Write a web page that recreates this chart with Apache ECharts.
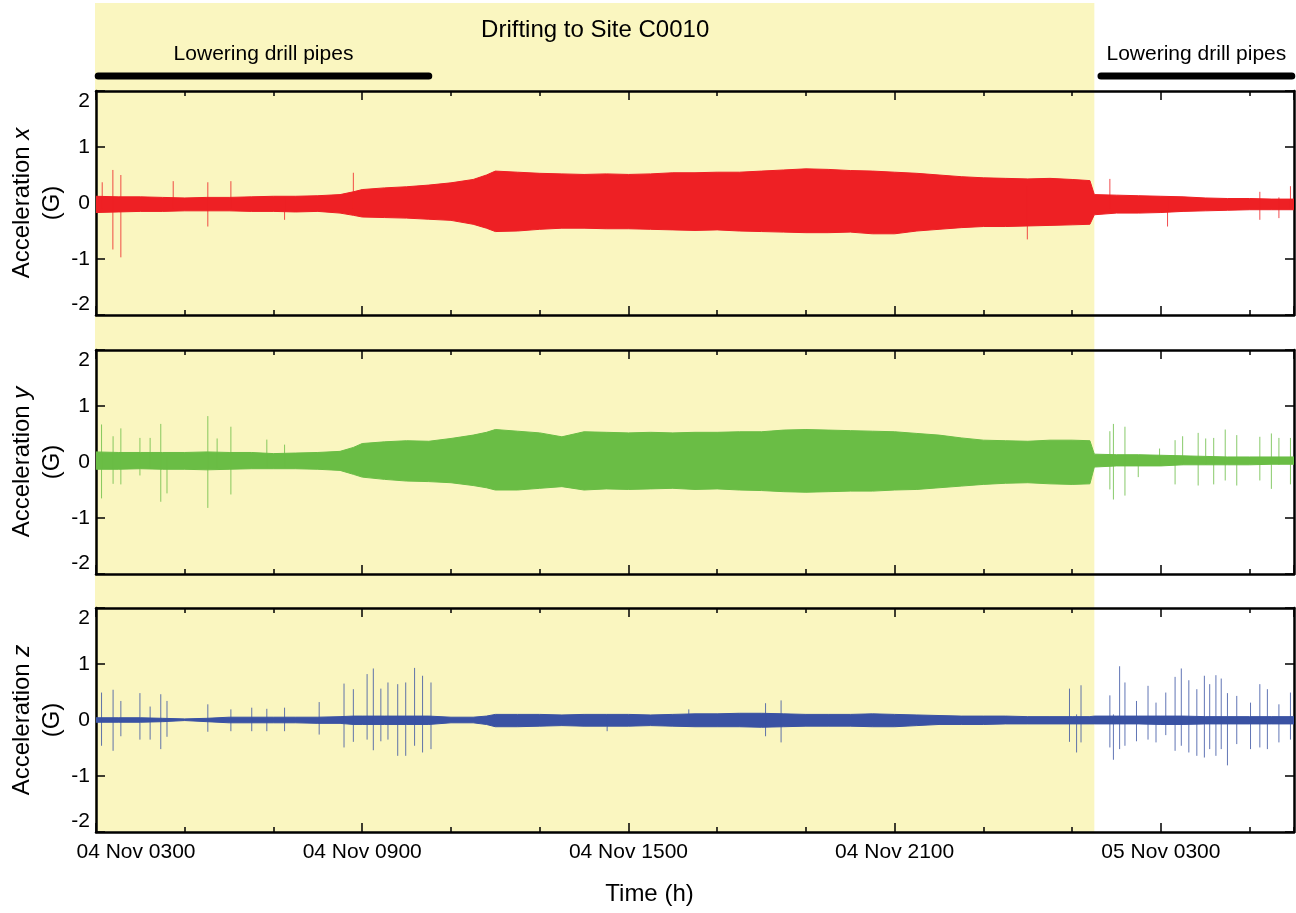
<!DOCTYPE html>
<html><head><meta charset="utf-8">
<script src="https://cdn.jsdelivr.net/npm/echarts@6/dist/echarts.min.js"></script>
<style>html,body{margin:0;padding:0;background:#fff}#c{width:1296px;height:913px}</style>
</head><body><div id="c"></div>
<script>
// ---- data (x = hours since 04 Nov 03:00) ----
const xTickLabels = ['04 Nov 0300','04 Nov 0900','04 Nov 1500','04 Nov 2100','05 Nov 0300'];
const yTicks = [-2,-1,0,1,2];
const driftRange = [0, 22.5];
const lowering1 = [0.05, 7.5];
const lowering2 = [22.65, 26.95];
const annotTexts = ['Drifting to Site C0010', 'Lowering drill pipes', 'Lowering drill pipes'];

const envTime = [0,0.5,1,1.5,2,2.5,3,3.5,4,4.5,5,5.5,5.8,6,6.5,7,7.5,8,8.5,8.8,
  9,9.5,10,10.5,11,11.5,12,12.5,13,13.5,14,14.5,15,15.5,16,16.5,17,17.5,18,18.5,19,19.5,20,20.5,21,21.5,22,
  22.4,22.5,23,23.5,24,24.5,25,25.5,26,26.5,27];

const envUpX = [0.12,0.11,0.11,0.10,0.09,0.10,0.10,0.11,0.12,0.12,0.13,0.15,0.20,0.24,0.27,0.29,0.32,0.36,0.42,0.50,
  0.57,0.55,0.53,0.52,0.51,0.52,0.51,0.52,0.54,0.54,0.55,0.55,0.57,0.59,0.61,0.60,0.58,0.57,0.55,0.53,0.50,0.47,0.45,0.44,0.43,0.44,0.42,
  0.40,0.15,0.14,0.13,0.12,0.11,0.09,0.08,0.08,0.07,0.07];
const envLoX = [-0.17,-0.16,-0.15,-0.15,-0.14,-0.14,-0.14,-0.15,-0.15,-0.16,-0.15,-0.18,-0.22,-0.25,-0.26,-0.27,-0.29,-0.31,-0.38,-0.45,
  -0.51,-0.50,-0.47,-0.45,-0.45,-0.46,-0.46,-0.47,-0.48,-0.49,-0.48,-0.50,-0.51,-0.52,-0.53,-0.53,-0.52,-0.55,-0.55,-0.50,-0.47,-0.44,-0.42,-0.42,-0.41,-0.40,-0.39,
  -0.38,-0.21,-0.18,-0.18,-0.17,-0.15,-0.14,-0.13,-0.12,-0.12,-0.12];

const envUpY = [0.18,0.17,0.17,0.17,0.17,0.18,0.17,0.17,0.15,0.16,0.17,0.19,0.26,0.33,0.36,0.38,0.37,0.42,0.48,0.53,
  0.58,0.55,0.52,0.45,0.54,0.53,0.52,0.53,0.52,0.53,0.53,0.54,0.54,0.57,0.58,0.57,0.56,0.55,0.54,0.51,0.48,0.43,0.39,0.38,0.37,0.39,0.39,
  0.38,0.14,0.13,0.13,0.12,0.11,0.10,0.09,0.09,0.09,0.09];
const envLoY = [-0.13,-0.13,-0.12,-0.13,-0.13,-0.14,-0.13,-0.12,-0.12,-0.12,-0.13,-0.15,-0.22,-0.27,-0.31,-0.34,-0.35,-0.37,-0.42,-0.46,
  -0.50,-0.50,-0.47,-0.44,-0.50,-0.48,-0.49,-0.48,-0.47,-0.49,-0.48,-0.50,-0.51,-0.53,-0.54,-0.53,-0.52,-0.52,-0.50,-0.49,-0.46,-0.43,-0.40,-0.38,-0.37,-0.39,-0.40,
  -0.39,-0.09,-0.07,-0.07,-0.07,-0.05,-0.05,-0.05,-0.05,-0.04,-0.04];

const envUpZ = [0.04,0.04,0.04,0.03,0.02,0.03,0.05,0.05,0.05,0.05,0.05,0.06,0.07,0.07,0.07,0.07,0.07,0.05,0.05,0.07,
  0.10,0.10,0.10,0.09,0.10,0.10,0.10,0.09,0.10,0.11,0.11,0.12,0.12,0.11,0.10,0.10,0.10,0.11,0.10,0.09,0.08,0.07,0.07,0.07,0.06,0.06,0.06,
  0.06,0.07,0.07,0.07,0.07,0.07,0.06,0.06,0.06,0.06,0.06];
const envLoZ = [-0.04,-0.04,-0.04,-0.03,-0.01,-0.03,-0.05,-0.05,-0.05,-0.05,-0.06,-0.06,-0.08,-0.08,-0.08,-0.08,-0.08,-0.05,-0.05,-0.08,
  -0.12,-0.12,-0.11,-0.10,-0.11,-0.11,-0.11,-0.10,-0.11,-0.12,-0.12,-0.12,-0.13,-0.12,-0.11,-0.11,-0.11,-0.12,-0.12,-0.10,-0.08,-0.08,-0.08,-0.07,-0.07,-0.07,-0.07,
  -0.07,-0.07,-0.07,-0.07,-0.08,-0.08,-0.07,-0.07,-0.07,-0.07,-0.07];

// spikes: [time, low, high]
const spikesX = [[0.14,-0.1,0.37],[0.38,-0.83,0.59],[0.56,-0.97,0.50],[1.74,-0.1,0.39],[2.52,-0.42,0.37],[3.04,-0.1,0.39],
  [4.25,-0.30,0.1],[5.80,-0.1,0.54],[20.99,-0.65,0.3],[22.85,-0.1,0.43],[24.15,-0.42,0.1],[26.23,-0.30,0.20],[26.66,-0.27,0.1],[26.92,-0.1,0.30]];
const spikesY = [[0.125,-0.65,0.67],[0.385,-0.39,0.46],[0.56,-0.40,0.60],[0.99,-0.24,0.43],[1.22,-0.1,0.43],[1.46,-0.71,0.68],
  [1.60,-0.56,0.1],[2.52,-0.82,0.82],[2.73,-0.1,0.42],[3.04,-0.58,0.63],[3.85,-0.1,0.40],[4.25,-0.1,0.31],
  [22.85,-0.49,0.55],[22.93,-0.67,0.68],[23.19,-0.60,0.63],[23.49,-0.27,0.1],[23.97,-0.05,0.24],[24.32,-0.40,0.39],[24.49,-0.05,0.46],
  [24.84,-0.42,0.52],[25.01,-0.05,0.42],[25.19,-0.40,0.43],[25.45,-0.33,0.58],[25.71,-0.42,0.48],[26.23,-0.33,0.45],[26.49,-0.48,0.51],
  [26.66,-0.05,0.43],[26.92,-0.40,0.43]];
const spikesZ = [[0.125,-0.46,0.49],[0.385,-0.55,0.54],[0.56,-0.29,0.34],[0.99,-0.35,0.48],[1.22,-0.35,0.24],[1.46,-0.52,0.46],
  [1.60,-0.30,0.34],[2.52,-0.21,0.28],[3.04,-0.20,0.19],[3.51,-0.20,0.22],[3.85,-0.20,0.20],[4.25,-0.20,0.22],[5.03,-0.26,0.32],
  [5.59,-0.49,0.65],[5.80,-0.39,0.55],[6.11,-0.35,0.82],[6.25,-0.54,0.92],[6.42,-0.38,0.56],[6.58,-0.35,0.67],[6.80,-0.64,0.64],
  [6.98,-0.64,0.67],[7.18,-0.46,0.93],[7.36,-0.58,0.79],[7.55,-0.52,0.67],[11.52,-0.20,0.10],[13.36,-0.10,0.19],[15.09,-0.29,0.30],
  [15.44,-0.40,0.35],[21.94,-0.39,0.56],[22.10,-0.58,0.10],[22.20,-0.40,0.62],[22.85,-0.49,0.44],[22.93,-0.71,0.10],[23.07,-0.52,0.96],
  [23.19,-0.46,0.67],[23.45,-0.38,0.34],[23.71,-0.35,0.61],[23.89,-0.40,0.31],[24.11,-0.27,0.49],[24.32,-0.55,0.77],[24.46,-0.46,0.92],
  [24.63,-0.58,0.71],[24.81,-0.64,0.55],[24.98,-0.67,0.79],[25.10,-0.52,0.64],[25.24,-0.64,0.80],[25.36,-0.52,0.74],[25.50,-0.81,0.48],
  [25.71,-0.43,0.43],[26.02,-0.52,0.31],[26.23,-0.49,0.64],[26.40,-0.52,0.55],[26.66,-0.40,0.28],[26.92,-0.35,0.49]];

const panels = [
  {axis:'x', color:'#ee2024', up:envUpX, lo:envLoX, spikes:spikesX},
  {axis:'y', color:'#6abd45', up:envUpY, lo:envLoY, spikes:spikesY},
  {axis:'z', color:'#3a52a3', up:envUpZ, lo:envLoZ, spikes:spikesZ}
];

// ---- chart ----
const FONT = '"Liberation Sans", Arial, Helvetica, sans-serif';
const chart = echarts.init(document.getElementById('c'), null, {renderer:'canvas'});
const gridTops = [91, 350, 608];
const grids = gridTops.map(t => ({left:96, width:1198, top:t, height:224, containLabel:false, outerBoundsMode:'none'}));
const xAxes = [], yAxes = [], series = [];
const line = {show:true, onZero:false, lineStyle:{color:'#000', width:2.5}};
const tickMajor = {show:true, inside:true, length:9, lineStyle:{color:'#000', width:1.5}};
const tickMinor = {show:true, inside:true, length:5, lineStyle:{color:'#000', width:1.5}};

panels.forEach((p, g) => {
  const last = g === 2;
  ['bottom','top'].forEach(pos => {
    xAxes.push({gridIndex:g, type:'value', min:0, max:27, interval:6, position:pos,
      axisLine:line, splitLine:{show:false}, axisTick:tickMajor,
      axisLabel:{show: last && pos==='bottom', margin:10, showMaxLabel:false,
        color:'#000', fontSize:21, fontFamily:FONT,
        formatter:(v)=>{const s = xTickLabels[Math.round(v/6)] || ''; return v===0 ? '{a|'+s+'}' : s;},
        rich:{a:{fontSize:21, fontFamily:FONT, color:'#000', padding:[0,0,0,80]}}},
      name: (last && pos==='bottom') ? 'Time (h)' : '', nameLocation:'middle', nameGap:50, nameMoveOverlap:false,
      nameTextStyle:{fontSize:24, fontFamily:FONT, color:'#000', padding:[0,91,0,0]}
    });
    xAxes.push({gridIndex:g, type:'value', min:0, max:27, interval:2, position:pos,
      axisLine:{show:false, onZero:false}, splitLine:{show:false}, axisLabel:{show:false},
      axisTick:tickMinor});
  });
  yAxes.push({gridIndex:g, type:'value', min:-2, max:2, interval:1, position:'left',
    axisLine:line, splitLine:{show:false}, axisTick:tickMajor,
    axisLabel:{color:'#000', fontSize:21, fontFamily:FONT, margin:6,
      verticalAlignMaxLabel:'top', verticalAlignMinLabel:'bottom'},
    name:'Acceleration {i|' + p.axis + '}\n(G)', nameLocation:'middle', nameGap:29, nameMoveOverlap:false,
    nameTextStyle:{fontSize:24, fontFamily:FONT, color:'#000', lineHeight:30, align:'center',
      rich:{i:{fontSize:24, fontFamily:FONT, fontStyle:'italic', color:'#000'}}}
  });
  yAxes.push({gridIndex:g, type:'value', min:-2, max:2, interval:1, position:'right',
    axisLine:line, splitLine:{show:false}, axisLabel:{show:false}, axisTick:tickMajor});

  const xi = g*4, yi = g*2;
  ['up','lo'].forEach(k => {
    series.push({type:'line', xAxisIndex:xi, yAxisIndex:yi, symbol:'none', animation:false,
      data: envTime.map((t,i)=>[t, p[k][i]]),
      lineStyle:{color:p.color, width:1}, areaStyle:{color:p.color, opacity:1}, z:3});
  });
  series.push({type:'custom', xAxisIndex:xi, yAxisIndex:yi, animation:false, z:3,
    data:p.spikes, encode:{x:0, y:[1,2]},
    renderItem:(params, api) => {
      const a = api.coord([api.value(0), api.value(1)]);
      const b = api.coord([api.value(0), api.value(2)]);
      return {type:'line', shape:{x1:a[0], y1:a[1], x2:b[0], y2:b[1]},
        style:{stroke:p.color, lineWidth:1, opacity:0.8}};
    }});
});

chart.setOption({
  animation:false,
  backgroundColor:'#fff',
  grid:grids, xAxis:xAxes, yAxis:yAxes, series:series
});

// annotations positioned through the axis scale
const px = v => chart.convertToPixel({xAxisIndex:0}, v);
const yBottom = chart.convertToPixel({yAxisIndex:4}, -2);
const x0 = px(driftRange[0]), x1 = px(driftRange[1]);
const barY = 76;
chart.setOption({graphic:[
  {type:'rect', z:-100, silent:true, shape:{x:x0-1, y:3, width:x1-x0+1, height:yBottom-3}, style:{fill:'#faf6c0'}},
  {type:'text', z:10, x:(x0+x1)/2, y:30, style:{text:annotTexts[0], fontSize:24, fontFamily:FONT, fill:'#000', align:'center', verticalAlign:'middle'}},
  {type:'line', z:10, shape:{x1:px(lowering1[0]), y1:barY, x2:px(lowering1[1]), y2:barY}, style:{stroke:'#000', lineWidth:7, lineCap:'round'}},
  {type:'line', z:10, shape:{x1:px(lowering2[0]), y1:barY, x2:px(lowering2[1]), y2:barY}, style:{stroke:'#000', lineWidth:7, lineCap:'round'}},
  {type:'text', z:10, x:(px(lowering1[0])+px(lowering1[1]))/2, y:54, style:{text:annotTexts[1], fontSize:21, fontFamily:FONT, fill:'#000', align:'center', verticalAlign:'middle'}},
  {type:'text', z:10, x:(px(lowering2[0])+px(lowering2[1]))/2, y:54, style:{text:annotTexts[2], fontSize:21, fontFamily:FONT, fill:'#000', align:'center', verticalAlign:'middle'}}
]});
</script></body></html>
